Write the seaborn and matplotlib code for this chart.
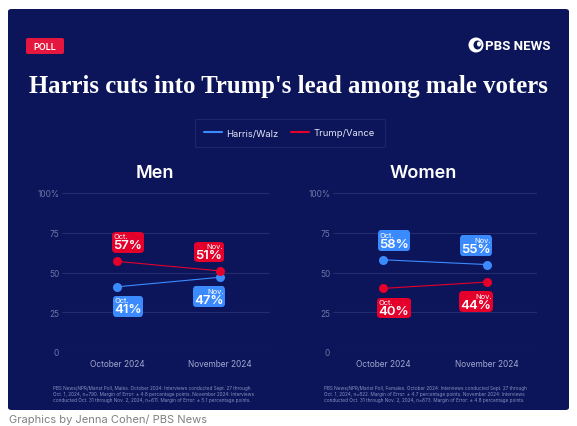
import matplotlib
matplotlib.use("Agg")
import matplotlib.pyplot as plt
import seaborn as sns
import pandas as pd
from matplotlib.patches import FancyBboxPatch, Ellipse
from matplotlib.lines import Line2D
from matplotlib.offsetbox import TextArea, VPacker, AnnotationBbox

# Data
months = ["October 2024", "November 2024"]
month_short = ["Oct.", "Nov."]
tickets = ["Harris/Walz", "Trump/Vance"]
men_harris = [41, 47]
men_trump = [57, 51]
women_harris = [58, 55]
women_trump = [40, 44]
y_ticks = [0, 25, 50, 75, 100]
y_tick_labels = ["0", "25", "50", "75", "100%"]

NAVY = "#0c155a"
BLUE = "#3b8bff"
RED = "#e4002b"
colors = {"Harris/Walz": BLUE, "Trump/Vance": RED}

rows = []
for group, h, t in [("Men", men_harris, men_trump), ("Women", women_harris, women_trump)]:
    for i, m in enumerate(months):
        rows.append({"group": group, "pos": i, "month": m, "ticket": "Harris/Walz", "value": h[i]})
        rows.append({"group": group, "pos": i, "month": m, "ticket": "Trump/Vance", "value": t[i]})
df = pd.DataFrame(rows)

sns.set_style("white", {"axes.facecolor": "none"})
plt.rcParams["font.family"] = ["Inter", "DejaVu Sans"]

W, H = 577, 427
fig = plt.figure(figsize=(W / 100, H / 100), dpi=100)
fig.patch.set_facecolor("white")


def fx(x):
    return x / W


def fy(y):
    return 1 - y / H


# navy card
fig.add_artist(FancyBboxPatch((fx(8), fy(411)), fx(561), 401 / H,
                              boxstyle="round,pad=0,rounding_size=0.006",
                              fc=NAVY, ec="none", transform=fig.transFigure, zorder=0))

# POLL badge
fig.add_artist(FancyBboxPatch((fx(26), fy(55)), fx(38), 16 / H,
                              boxstyle="round,pad=0,rounding_size=0.004",
                              fc="#e5173f", ec="none", transform=fig.transFigure))
fig.text(fx(45), fy(47.5), "POLL", color="white", fontsize=6.5, weight="semibold",
         ha="center", va="center")

# PBS NEWS logo
fig.add_artist(Ellipse((fx(476), fy(46)), 15 / W, 15 / H, fc="white", ec="none",
                       transform=fig.transFigure))
fig.add_artist(Ellipse((fx(477.5), fy(46)), 8 / W, 9 / H, fc=NAVY, ec="none",
                       transform=fig.transFigure))
fig.add_artist(Ellipse((fx(479), fy(45)), 4 / W, 5 / H, fc="white", ec="none",
                       transform=fig.transFigure))
fig.text(fx(485), fy(46), "PBS NEWS", color="white", fontsize=9.5, weight="bold",
         family="Roboto", ha="left", va="center")

# title
fig.text(fx(288), fy(93), "Harris cuts into Trump's lead among male voters",
         color="white", fontsize=17.8, weight="bold", family="Liberation Serif",
         ha="center", va="baseline")

# legend
handles = [Line2D([], [], color=colors[t], lw=1.5) for t in tickets]
leg = fig.legend(handles, tickets, loc="center", bbox_to_anchor=(fx(289.5), fy(134)),
                 ncol=2, frameon=True, facecolor=NAVY, edgecolor="#222b6a",
                 fontsize=6.8, labelcolor="#e3e6f7", handlelength=1.9,
                 handletextpad=0.45, columnspacing=1.3, borderpad=1.05, fancybox=True)
leg.get_frame().set_linewidth(0.8)

panels = [("Men", 62, 208, -0.534, 1.485, 155),
          ("Women", 333, 204, -0.48, 1.48, 423)]

for group, left, width, x0, x1, title_x in panels:
    ax = fig.add_axes([fx(left), fy(353), fx(width), 159 / H])
    sub = df[df["group"] == group]
    sns.lineplot(data=sub, x="pos", y="value", hue="ticket", palette=colors,
                 marker="o", markersize=6.5, markeredgewidth=0, linewidth=0.8,
                 ax=ax, legend=False)
    ax.set_xlim(x0, x1)
    ax.set_ylim(0, 100)
    ax.set_yticks(y_ticks)
    ax.set_yticklabels(y_tick_labels)
    ax.set_xticks(range(len(months)))
    ax.set_xticklabels(months)
    ax.set_xlabel("")
    ax.set_ylabel("")
    ax.grid(axis="y", color="#232c6c", lw=0.8)
    ax.grid(axis="x", visible=False)
    ax.set_axisbelow(True)
    for s in ax.spines.values():
        s.set_visible(False)
    ax.tick_params(axis="y", length=0, pad=2, labelsize=6, labelcolor="#6f76a6")
    ax.tick_params(axis="x", length=0, pad=5, labelsize=6, labelcolor="#a3a8cf")

    fig.text(fx(title_x), fy(174), group, color="white", fontsize=13,
             weight="semibold", ha="center", va="center")

    # value boxes
    for i in range(len(months)):
        vals = sub[sub["pos"] == i].set_index("ticket")["value"]
        for t in tickets:
            v = vals[t]
            other = vals.drop(t).iloc[0]
            dy = 19 if v > other else -19.5
            dx = 11 if i == 0 else -11
            pack = VPacker(children=[
                TextArea(month_short[i], textprops=dict(color="white", size=5.4)),
                TextArea(f"{v}%", textprops=dict(color="white", size=9.5, weight="semibold")),
            ], align="left" if i == 0 else "right", pad=0, sep=0)
            ab = AnnotationBbox(pack, (i, v), xybox=(dx, dy), xycoords="data",
                                boxcoords="offset pixels", box_alignment=(0.5, 0.5),
                                pad=0.22, frameon=True,
                                bboxprops=dict(boxstyle="round,pad=0.1,rounding_size=0.25",
                                               fc=colors[t], ec="none"))
            ab.set_zorder(5)
            ax.add_artist(ab)

# footnotes
notes = [
    (53, "PBS News/NPR/Marist Poll, Males. October 2024: Interviews conducted Sept. 27 through\n"
         "Oct. 1, 2024, n=790. Margin of Error: \u00b1 4.8 percentage points. November 2024: Interviews\n"
         "conducted Oct. 31 through Nov. 2, 2024, n=611. Margin of Error: \u00b1 5.1 percentage points."),
    (324, "PBS News/NPR/Marist Poll, Females. October 2024: Interviews conducted Sept. 27 through\n"
          "Oct. 1, 2024, n=822. Margin of Error: \u00b1 4.7 percentage points. November 2024: Interviews\n"
          "conducted Oct. 31 through Nov. 2, 2024, n=673. Margin of Error: \u00b1 4.8 percentage points."),
]
for x, txt in notes:
    fig.text(fx(x), fy(386), txt, color="#8a90c0", fontsize=3.4, linespacing=1.25,
             ha="left", va="top")

fig.text(fx(9), fy(423.5), "Graphics by Jenna Cohen/ PBS News", color="#808080",
         fontsize=8, ha="left", va="baseline")

fig.savefig("out.png", dpi=100, facecolor="white")
